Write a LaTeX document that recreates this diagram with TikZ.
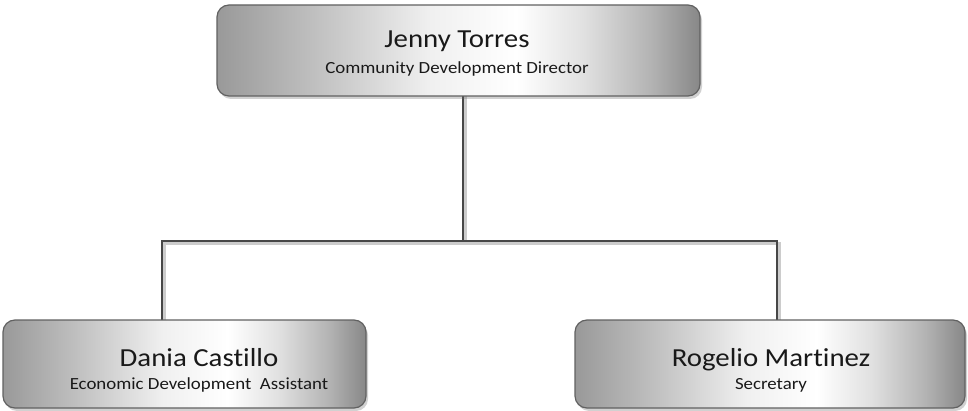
\documentclass[tikz,border=0pt]{standalone}
\usepackage{fontspec}
\setmainfont{Carlito}[FakeStretch=1.11, Ligatures=NoCommon]
\usetikzlibrary{shadows,calc}
\pgfdeclarehorizontalshading{boxshade}{100bp}{color(0bp)=(black!40); color(25bp)=(black!40); color(35bp)=(black!25); color(47bp)=(black!6); color(56bp)=(white); color(63bp)=(black!12); color(70bp)=(black!30); color(75bp)=(black!47); color(100bp)=(black!47)}
\tikzset{
  card/.style={rectangle, rounded corners=12pt, draw=black!62, line width=1.2pt,
    shading=boxshade, drop shadow={shadow xshift=2pt, shadow yshift=-3pt, opacity=0.3, fill=black!60},
    inner sep=0pt},
  nametext/.style={anchor=base, font=\fontsize{26}{30}\selectfont, text=black!90},
  roletext/.style={anchor=base, font=\fontsize{17}{20}\selectfont, text=black!90},
  conn/.style={draw=black!72, line width=1.8pt},
  connshadow/.style={draw=black!20, line width=3pt}
}
\begin{document}
\begin{tikzpicture}[x=1pt,y=-1pt]
\useasboundingbox (0,0) rectangle (968,411);
% connectors
\coordinate (cx) at (463,96);
\coordinate (barmid) at (463,241);
\coordinate (lx) at (162,320);
\coordinate (rx) at (777,320);
\draw[connshadow] ($(cx)+(2.5,0)$) -- ($(barmid)+(2.5,2.5)$);
\draw[connshadow] ($(lx)+(2.5,0)$) |- ($(barmid)+(0,2.5)$) -| ($(rx)+(2.5,0)$);
\draw[conn] (cx) -- (barmid);
\draw[conn] (lx) |- (barmid) -| (rx);
% boxes
\node[card, minimum width=483pt, minimum height=91pt] (top) at (458.5,50.5) {};
\node[card, minimum width=363pt, minimum height=88pt] (dania) at (184.5,364) {};
\node[card, minimum width=390pt, minimum height=88pt] (rogelio) at (770,364) {};
% texts
\node[nametext] (n1) at (457,48) {Jenny Torres};
\node[roletext] (r1) at (457,74) {Community Development Director};
\node[nametext] (n2) at (199,366) {Dania Castillo};
\node[roletext] (r2) at (199,389) {Economic Development\ \ Assistant};
\node[nametext] (n3) at (771,366) {Rogelio Martinez};
\node[roletext] (r3) at (771,389) {Secretary};
\end{tikzpicture}
\end{document}
